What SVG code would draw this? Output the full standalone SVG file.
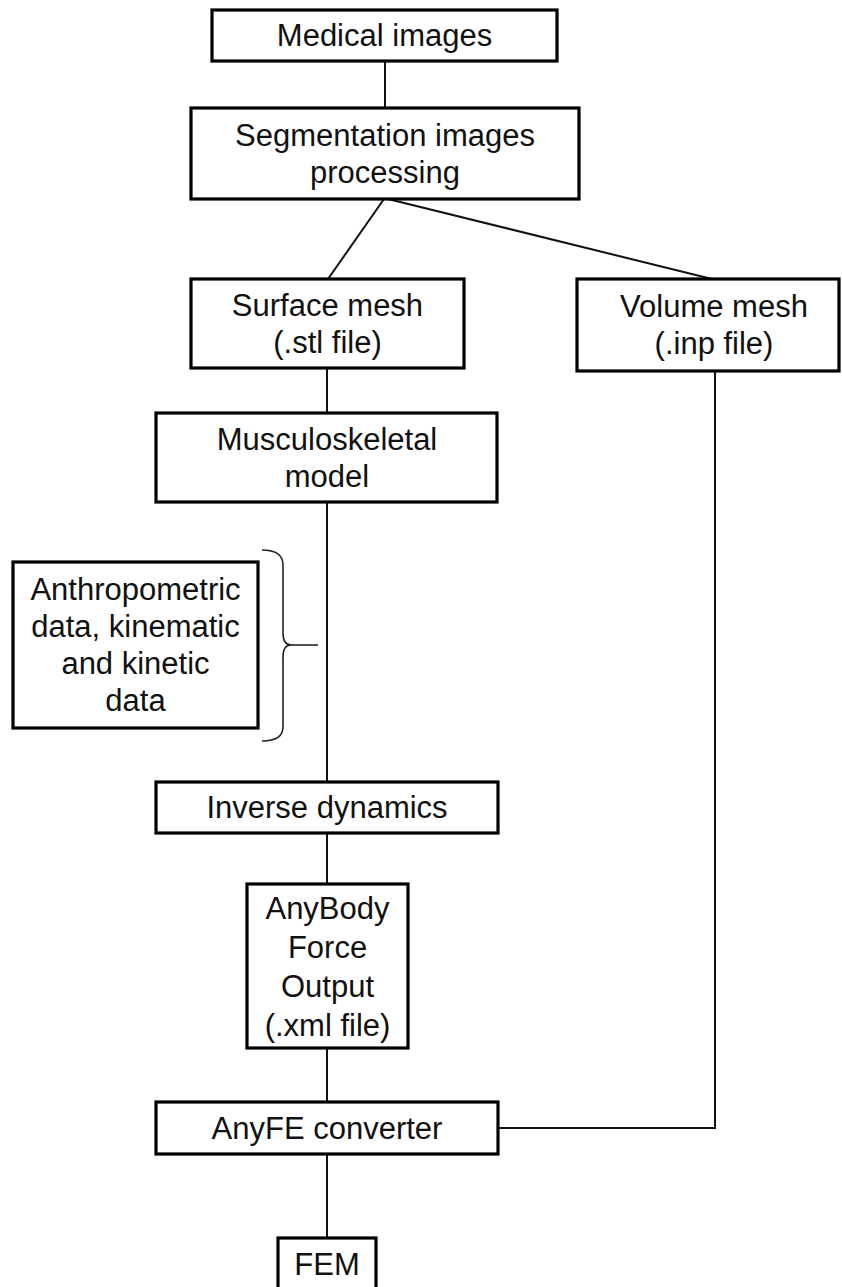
<svg xmlns="http://www.w3.org/2000/svg" width="842" height="1287" viewBox="0 0 842 1287">
<style>
.box{fill:#fff;stroke:#000;stroke-width:3.2}
.t{font-family:"Liberation Sans",Arial,sans-serif;font-size:31px;fill:#111;text-anchor:middle}
.c{fill:none;stroke:#111;stroke-width:2}
.b{fill:none;stroke:#222;stroke-width:1.6}
</style>
<rect width="842" height="1287" fill="#fff"/>
<g id="connectors">
<path class="c" d="M385,61 V108"/>
<path class="c" d="M384,199 L328,279"/>
<path class="c" d="M388,199 L712,279"/>
<path class="c" d="M327,368 V413"/>
<path class="c" d="M327,502 V782"/>
<path class="c" d="M327,833 V884"/>
<path class="c" d="M327,1048 V1102"/>
<path class="c" d="M715,371 V1128 H498"/>
<path class="c" d="M327,1154 V1238"/>
</g>
<g id="brace">
<path class="b" d="M262,550 Q283,550 283,565 L283,633 Q283,645 291,645 Q283,645 283,657 L283,727 Q283,741 262,741"/>
<path class="b" d="M291,645 L318,645"/>
</g>
<g id="medical-images">
<rect class="box" x="212" y="10" width="345" height="51"/>
<text class="t" x="384.5" y="46">Medical images</text>
</g>
<g id="segmentation">
<rect class="box" x="191" y="108" width="388" height="91"/>
<text class="t" x="385" y="145.5">Segmentation images</text>
<text class="t" x="385" y="182.5">processing</text>
</g>
<g id="surface-mesh">
<rect class="box" x="191" y="279" width="273" height="89"/>
<text class="t" x="327.5" y="315.5">Surface mesh</text>
<text class="t" x="327.5" y="352.5">(.stl file)</text>
</g>
<g id="volume-mesh">
<rect class="box" x="577" y="279" width="262" height="92"/>
<text class="t" x="714" y="317">Volume mesh</text>
<text class="t" x="714" y="354">(.inp file)</text>
</g>
<g id="musculoskeletal">
<rect class="box" x="156" y="413" width="341" height="89"/>
<text class="t" x="327" y="449.5">Musculoskeletal</text>
<text class="t" x="327" y="486.5">model</text>
</g>
<g id="anthropometric">
<rect class="box" x="13" y="562" width="245" height="166"/>
<text class="t" x="135.5" y="600">Anthropometric</text>
<text class="t" x="135.5" y="637">data, kinematic</text>
<text class="t" x="135.5" y="674">and kinetic</text>
<text class="t" x="135.5" y="711">data</text>
</g>
<g id="inverse-dynamics">
<rect class="box" x="156" y="782" width="342" height="51"/>
<text class="t" x="327" y="818">Inverse dynamics</text>
</g>
<g id="anybody-output">
<rect class="box" x="247" y="884" width="161" height="164"/>
<text class="t" x="327.5" y="919">AnyBody</text>
<text class="t" x="327.5" y="958">Force</text>
<text class="t" x="327.5" y="997">Output</text>
<text class="t" x="327.5" y="1036">(.xml file)</text>
</g>
<g id="anyfe-converter">
<rect class="box" x="156" y="1102" width="342" height="52"/>
<text class="t" x="327" y="1139">AnyFE converter</text>
</g>
<g id="fem">
<rect class="box" x="278" y="1238" width="98" height="62"/>
<text class="t" x="327" y="1275">FEM</text>
</g>
</svg>
